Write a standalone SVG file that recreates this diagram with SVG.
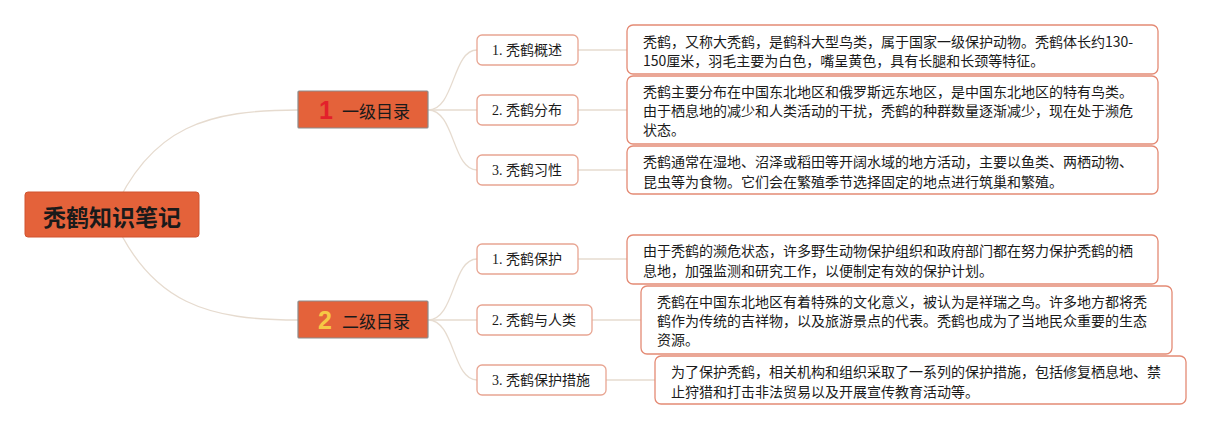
<svg xmlns="http://www.w3.org/2000/svg" width="1231" height="430" viewBox="0 0 1231 430">
<style>
text{font-family:"Noto Sans CJK SC","Liberation Sans",sans-serif;fill:#1a1a1a}
.root{fill:#e4623a;stroke:#d0532e;stroke-width:1}
.rt{font-size:23px;font-weight:bold;text-anchor:middle;dominant-baseline:central}
.l1{fill:#e4623a;stroke:#8c8c8c;stroke-width:1.2}
.l1t{font-size:17px;dominant-baseline:central}
.num{font-size:25px;font-weight:bold;dominant-baseline:central;font-family:"Liberation Sans","Noto Sans CJK SC",sans-serif}
.sub{fill:#fff;stroke:#e8a592;stroke-width:1.3}
.st{font-size:14px;dominant-baseline:central;font-family:"Liberation Serif","Noto Sans CJK SC",serif}
.det{fill:#fff;stroke:#e48a74;stroke-width:1.3}
.dt{font-size:14px;dominant-baseline:central}
.c{fill:none;stroke:#e6dbcf;stroke-width:1.3}
</style>
<g id="connectors">
<path class="c" d="M112 215 C150 125 210 110 298 110"/>
<path class="c" d="M112 215 C150 305 210 320 298 320"/>
<path class="c" d="M428 110 C455 110 452 50 477 50"/>
<path class="c" d="M428 110 L477 110"/>
<path class="c" d="M428 110 C455 110 452 170 477 170"/>
<path class="c" d="M428 320 C455 320 452 259 477 259"/>
<path class="c" d="M428 320 L477 320"/>
<path class="c" d="M428 320 C455 320 452 380 477 380"/>
<path class="c" d="M578 50 L627 50"/>
<path class="c" d="M578 110 L627 110"/>
<path class="c" d="M578 170 L627 170"/>
<path class="c" d="M578 259 L627 259"/>
<path class="c" d="M592 320 L641 320"/>
<path class="c" d="M606 380 L655 380"/>
</g>
<g id="root">
<rect class="root" x="25" y="192" width="174" height="45" rx="3"/>
<text class="rt" x="112" y="216">秃鹤知识笔记</text>
</g>
<g id="level1">
<rect class="l1" x="298" y="91" width="130" height="37" rx="1"/>
<text class="num" x="319" y="110" fill="#e3202b" style="fill:#e3202b">1</text>
<text class="l1t" x="342" y="110">一级目录</text>
</g>
<g id="level2">
<rect class="l1" x="298" y="301" width="130" height="37" rx="1"/>
<text class="num" x="318" y="320" style="fill:#f6c845">2</text>
<text class="l1t" x="342" y="320">二级目录</text>
</g>
<g id="n1-1">
<rect class="sub" x="477" y="35" width="101" height="30" rx="5"/>
<text class="st" x="492" y="50">1. 秃鹤概述</text>
</g>
<g id="n1-2">
<rect class="sub" x="477" y="95" width="101" height="30" rx="5"/>
<text class="st" x="492" y="110">2. 秃鹤分布</text>
</g>
<g id="n1-3">
<rect class="sub" x="477" y="155" width="101" height="30" rx="5"/>
<text class="st" x="492" y="170">3. 秃鹤习性</text>
</g>
<g id="n2-1">
<rect class="sub" x="477" y="244" width="101" height="30" rx="5"/>
<text class="st" x="492" y="259">1. 秃鹤保护</text>
</g>
<g id="n2-2">
<rect class="sub" x="477" y="305" width="115" height="30" rx="5"/>
<text class="st" x="492" y="320">2. 秃鹤与人类</text>
</g>
<g id="n2-3">
<rect class="sub" x="477" y="365" width="129" height="30" rx="5"/>
<text class="st" x="492" y="380">3. 秃鹤保护措施</text>
</g>
<g id="d1-1">
<rect class="det" x="627" y="25" width="531" height="49" rx="6"/>
<text class="dt" x="643" y="41">秃鹤，又称大秃鹤，是鹤科大型鸟类，属于国家一级保护动物。秃鹤体长约130-</text>
<text class="dt" x="643" y="60">150厘米，羽毛主要为白色，嘴呈黄色，具有长腿和长颈等特征。</text>
</g>
<g id="d1-2">
<rect class="det" x="627" y="76" width="531" height="68" rx="6"/>
<text class="dt" x="643" y="91">秃鹤主要分布在中国东北地区和俄罗斯远东地区，是中国东北地区的特有鸟类。</text>
<text class="dt" x="643" y="110">由于栖息地的减少和人类活动的干扰，秃鹤的种群数量逐渐减少，现在处于濒危</text>
<text class="dt" x="643" y="129">状态。</text>
</g>
<g id="d1-3">
<rect class="det" x="627" y="146" width="531" height="48" rx="6"/>
<text class="dt" x="643" y="161">秃鹤通常在湿地、沼泽或稻田等开阔水域的地方活动，主要以鱼类、两栖动物、</text>
<text class="dt" x="643" y="181">昆虫等为食物。它们会在繁殖季节选择固定的地点进行筑巢和繁殖。</text>
</g>
<g id="d2-1">
<rect class="det" x="627" y="235" width="531" height="49" rx="6"/>
<text class="dt" x="643" y="250">由于秃鹤的濒危状态，许多野生动物保护组织和政府部门都在努力保护秃鹤的栖</text>
<text class="dt" x="643" y="270">息地，加强监测和研究工作，以便制定有效的保护计划。</text>
</g>
<g id="d2-2">
<rect class="det" x="641" y="286" width="531" height="68" rx="6"/>
<text class="dt" x="657" y="301">秃鹤在中国东北地区有着特殊的文化意义，被认为是祥瑞之鸟。许多地方都将秃</text>
<text class="dt" x="657" y="320">鹤作为传统的吉祥物，以及旅游景点的代表。秃鹤也成为了当地民众重要的生态</text>
<text class="dt" x="657" y="339">资源。</text>
</g>
<g id="d2-3">
<rect class="det" x="655" y="356" width="531" height="48" rx="6"/>
<text class="dt" x="671" y="371">为了保护秃鹤，相关机构和组织采取了一系列的保护措施，包括修复栖息地、禁</text>
<text class="dt" x="671" y="391">止狩猎和打击非法贸易以及开展宣传教育活动等。</text>
</g>
</svg>
